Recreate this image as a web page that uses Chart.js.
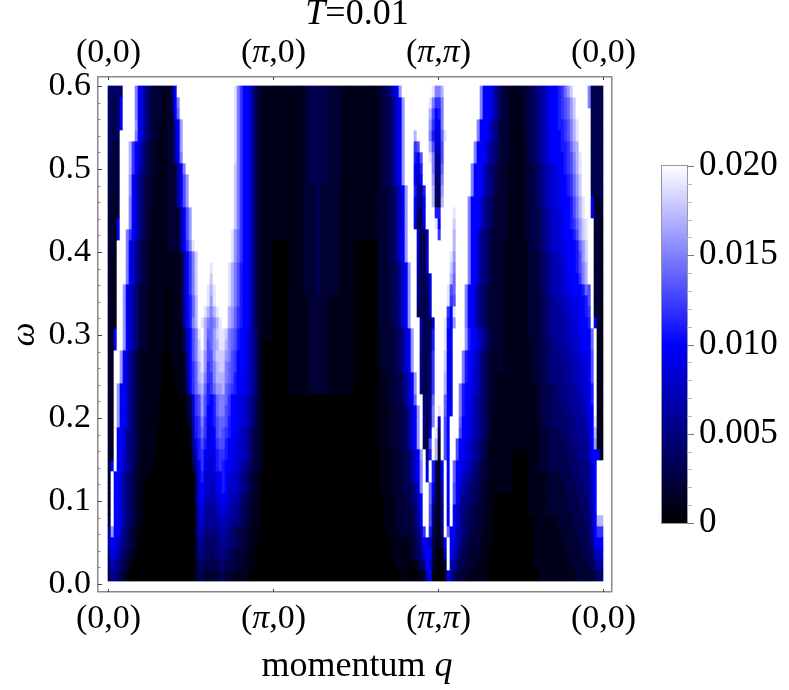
<!DOCTYPE html>
<html>
<head>
<meta charset="utf-8">
<title>T=0.01</title>
<script src="https://cdn.jsdelivr.net/npm/chart.js@4/dist/chart.umd.min.js"></script>
<style>
  html, body { margin: 0; padding: 0; background: #fff; }
  #wrap { position: relative; width: 789px; height: 690px; overflow: hidden; }
  canvas { position: absolute; display: block; filter: blur(0.6px); }
</style>
</head>
<body>
<div id="wrap">
  <canvas id="mapChart" width="789" height="690" style="left:0;top:0"></canvas>
  <canvas id="barChart" width="149" height="423" style="left:640px;top:133px"></canvas>
</div>
<script>
const qTicks = [0, 1, 2, 3];
const qLabels = ['(0,0)', '(π,0)', '(π,π)', '(0,0)'];
const omegaTicks = [0, 0.1, 0.2, 0.3, 0.4, 0.5, 0.6];
const omegaMinorTicks = [0.02, 0.04, 0.06, 0.08, 0.12, 0.14, 0.16, 0.18, 0.22, 0.24, 0.26, 0.28, 0.32, 0.34, 0.36, 0.38, 0.42, 0.44, 0.46, 0.48, 0.52, 0.54, 0.56, 0.58];
const barTicks = [0, 0.005, 0.01, 0.015, 0.02];
const barMinorTicks = [0.001, 0.002, 0.003, 0.004, 0.006, 0.007, 0.008, 0.009, 0.011, 0.012, 0.013, 0.014, 0.016, 0.017, 0.018, 0.019];
const barLabels = ['0', '0.005', '0.010', '0.015', '0.020'];

// spectral weight, top row first, one base-36 digit per
// column in units of 0.001 (0 = black, a = 0.010 = blue, k = 0.020 = white)
const spectrumRows = [
  '44444kkkkf a864322211 23akkkkkkk kkkkkkkkkk kkjfcaa863 2111111111 1111122333 3332222211 1111111111 233468agkk kkkkkkkkjf fhkkkkkkkk kkkkfaaa86 4322111122 3345678aaa bcegikkkkk f3333',
  '4334akkkkf a864322211 23afkkkkkk kkkkkkkkkk kkjfcaa863 2111111111 1111122333 3332222211 1111111111 2233468agk kkkkkkkjfc cfkkkkkkkk kkkkfaaa86 4322111122 3345678aaa bcdegikkkk f3333',
  '4334akkkkf a864322211 22aekkkkkk kkkkkkkkkk kkjfcaa863 2111111111 1111122333 3332222211 1111111111 2233468agk kkkkkkkhda bfkkkkkkkk kkkkfaaa86 4322111122 3345678aaa bcdegikkkk k3333',
  '4334akkkkg a864322111 226agkkkkk kkkkkkkkkk kkjfcaa863 2111111111 1111122333 3332222211 1111111111 2233468agk kkkkkkkgc9 afkkkkkkkk kkkfaaa865 3222111122 3345678aaa bbcdfhjkkk k3333',
  '4334kkkkkf a864322111 226agkkkkk kkkkkkkkkk kkjfcaa863 2111111111 1111122333 3332222211 1111111111 2233468agk kkhkkkkfb8 9ejkkkkkkk kkkfaaa865 3222111112 3345678aaa abcdfhjkkk k3333',
  '4323kkkhca 8643221111 226agkkkkk kkkkkkkkkk kkjfcaa863 2111111111 1111122333 3332222211 1111111111 2233468agk kkcdkkkhd8 8dkkkkkkkk kkfaaa8654 3222111112 3345678aaa abbceghkkk k3333',
  '3323kkkhca 8643221111 226afkkkkk kkkkkkkkkk kkjfcaa863 2111111111 1111122333 3332222211 1111111111 2233468agk kkb9dkkjf6 6dkkkkkkkk kkfaaa8654 3222111112 3345678aaa aabcdfhjkk k3333',
  '3223kkkhca 7643221111 2226afkkkk kkkkkkkkkk kkifcaa863 2111111111 1111122333 3332222211 1111111111 2233468agk kka8bkkkf5 5ekkkkkkkk kfaaa86543 2221111112 2334567889 aabcdfhjkk k3333',
  '3223kkkga8 6432211111 2226adgkkk kkkkkkkkkk kkifcaa863 2111111111 1111122333 3332222211 1111111111 2233468agk kka7akkkg4 4fkkkkkkkk kfaaa86543 2221111112 2334567889 9aabcegikk k3333',
  '3223kkkga8 6432211111 2226adgkkk kkkkkkkkkk kkifcaa863 2111111111 1111122223 3222222111 1111111111 22233468ag kkb66bkkh4 4gkkkkkkkk kfaaa86543 2221111112 2334567889 9aabcegikk k3333',
  '2213kkkfa8 6432211111 2226adgkkk kkkkkkkkkk kkifcaa863 2111111111 1111122223 3222222111 1111111111 22233468ag kka55akkh3 3hkkkkkkkk faaa865432 2221111112 2334567889 9aaabdfhjk ka222',
  '2213kkkfa8 6432211111 22226adgkk kkkkkkkkkk kkifcaa863 2111111111 1111122223 3222222111 1111111111 22233468ag kka43akkkb bkkkkjkkkk faaa865432 2221111112 2333456788 99aabdfhjk ka222',
  '221akkkfa8 6432111111 22226adgkk kkkkkkkkkk kkifcaa863 2111111111 1111122223 3222222111 1111111111 22233468ag kk9339kkkj akkkkikkkk faaa865432 2221111112 2333456788 89aabcegij kk221',
  '221akkfca8 6432111111 22226adgkk kkkkkkkkkk kjgecaa863 2111111111 1111122223 3222222111 1111111111 22233468ag kkk8337kkk ckkkkhkkkk faa8654322 2221111112 2333456788 89aaabdgij kk221',
  '221kkkfa86 4322111111 22226acfjk kkkkkkkkkk kjgecaa863 2111100000 1111122223 3222222111 1100000000 22233468ag kkk8337kkk kkkkkhkkkk faa8654322 2211111111 2333456788 899aaabegi kk221',
  '211kkkfa86 4322111111 111126acfi kkkkkkkkkk kjgecaa863 2111100000 1111122223 3222222111 1100000000 22233468ag kkk7338kkk kkkkjgkkkk faa8654322 2211111111 2223345677 889aaabdgi kk221',
  '211kkkfa86 4322111111 111126acfi kkkkjkkkkk jhfdbaa863 2111100000 1111122223 3222222111 1100000000 222233468a gkk7338kkk kkkkifkkkk faa8654322 2211111111 2223345677 789aaabdfh kk221',
  '211kkkfa86 4322111111 111126acfi kkkkikkkkk jhfdbaa863 2111100000 1111122223 3222222111 1100000000 222233468a gkk63349kk kkkkhekkkk faa8654322 2211111111 2223345677 7899aaacfh kk221',
  '211kkga865 3221111110 111126acfi kkkjhjkkkk jhfdbaa863 2111100000 1111122223 3222222111 1100000000 222233468a gkk63349kk kkkjdekkkf aa86543222 2211111111 2223345677 7889aaaabe dk221',
  '211kkga865 3221111110 111126abeh kkkjgjkkkk jhfdbaa863 2111100000 1111111222 2221111111 1100000000 222233468a gkk53338kk kkkjcdkkkf aa86543222 2211111111 2222344566 7788999aab dk221',
  '211kkga865 3221111110 111126abeh kkjhfhjkkk hgecbaa863 2111100000 1111111222 2221111111 1100000000 222233468a gkk43338kk kkkcajkkkf aa86543222 2211111111 2222344566 6778899aab ck221',
  '211kkga865 3221111110 111116abfh kjhfefhjkk hgecbaa863 2111100000 1111111222 2221111111 1100000000 222233468a gkkk73338k kkjbagkkkf aa86543222 2211111111 2222344566 6677889aaa bka21',
  '21akkga865 3221111110 1111137adf jkheegijji fedbaa9764 2111100000 1111111222 2221111111 1100000000 1222233468 agkk6334bk kkjaakkkkg baa8754322 2211111111 2222344566 66778889aa aek11',
  '21akkga865 3221111110 1111137adf ikhdeghjjh fedbaa9764 2100000000 1111111222 2221111111 1100000000 1222233468 agkk6334bk kkjaakkkkg baa8754322 2211111111 1222334455 66677889aa aek11',
  '21kkga8643 2111111100 0111125adf ijgddgiiig fdcaaa9764 2100000000 1111111222 2221111111 1100000000 1222233468 agkk5335ck kkia9kkkfb aa87543221 2211111111 1222334455 5666778899 adk11',
  '21kkga8643 2111111100 0011125ace hjgcdfhiif edcaaa9764 2100000000 1111111222 2221111111 1100000000 1222233468 agkk5335ck kkia9kkkfb aa87543221 2211111111 1222334455 5566677889 adk11',
  '21kkga8643 2111111100 0001115ace hifccfhhhf edbaa99764 2100000000 1111111222 2221111111 1100000000 1112223346 8agk5335ck kkha9kkkfb a987543221 1111111111 1222334455 5566677888 adk11',
  '21kgaa8643 2111111100 0001114ace ghebcegghe dcbaa99764 2100000000 1111111222 2221111111 1100000000 1112223346 8agk5335ck kkha9kkfba a987543221 1111111111 1112233344 5556667788 9bk11',
  '21kgaa8543 2111111000 000000238c dgdbabeffe caa9987653 2100000000 0000000000 0000000000 0000000000 1112223346 8aekk536ek kkea9kkfba a876543221 1111111111 1112233344 4555666778 9bk11',
  '21kgaa8543 2111111000 000000138c dgdaabeffd caa9987653 2100000000 0000000000 0000000000 0000000000 1111222334 68agk536fk jkeaakkfba 9876543211 1111111111 1112233344 4455566677 9ak11',
  '21kgaa8543 2111111000 000000127b cfcaabdeed baa9987653 2100000000 0000000000 0000000000 0000000000 1111222334 68agk536fk 8kdakkkeaa 9876543211 1111111111 1112233344 4445556667 8aj11',
  '21kaa86543 2111110000 000000016b cec99adedc baa9876532 2100000000 0000000000 0000000000 0000000000 1111222334 68agk438kj 4kdakkkdaa 9876543211 1111111111 1111222333 3444555666 8ah11',
  '21kaa86543 2111110000 000000015a bdb99acddb a998876532 2100000000 0000000000 0000000000 0000000000 1111222334 68agk33dkh 2kdakkdaa9 8765432111 1111111111 1111222333 3344455566 7ag11',
  '21kaa86543 2111110000 0000000048 bca999bccb a998876532 2100000000 0000000000 0000000000 0000000000 0111122233 468agk4bkh 1kdakkdaa9 8765432111 1111100000 1111222333 3334445556 7aaa1',
  '2akaa86542 2111100000 0000000036 aca889bcba a988765432 2100000000 0000000000 0000000000 0000000000 0111122233 468afk8kb4 1akakeaa98 7654322111 1111100000 1111222333 3333444555 68akk',
  '2kaa865432 1110000000 0000000004 ab88889aba 8887654322 1000000000 0000000000 0000000000 0000000000 0111122233 468afkakb3 1akakea987 6544322111 1111100000 1111112222 2333344455 68akk',
  '2kaa865432 1100000000 0000000004 9a88789aba 8887654322 1000000000 0000000000 0000000000 0000000000 0111122233 3468fkkea3 18kakda876 5443221110 1111100000 1111112222 2233334445 58akk',
  '2kaa865432 1100000000 0000000004 9a777789a9 8776543221 1000000000 0000000000 0000000000 0000000000 0011112223 3457akke83 17kakda765 5433221110 0000000000 1111112222 2223333444 58akk',
  '2kaa865432 1100000000 0000000003 8966667898 7665433211 1000000000 0000000000 0000000000 0000000000 0011112223 2346akkd52 16kaka8654 4332221100 0000000000 1111112222 2222333344 57akk',
  '3kaa865432 1100000000 0000000003 8866666787 6655433211 1000000000 0000000000 0000000000 0000000000 0011112223 2346akkd52 16kaka8654 3332211100 0000000000 0011111111 2222233334 47ahh',
  '6gaa764321 1000000000 0000000003 7755555676 5443322111 0000000000 0000000000 0000000000 0000000000 0001111222 23357ckb42 14keaa7654 3322211100 0000000000 0011111111 1222223333 46acc',
  '7a98654321 0000000000 0000000002 6644445565 5443322111 0000000000 0000000000 0000000000 0000000000 0000111111 12346aa731 13aka97543 3222111100 0000000000 0011111111 1122222333 459aa',
  '5a87543211 0000000000 0000000002 5544344554 4332221110 0000000000 0000000000 0000000000 0000000000 0000011111 123458aa31 017ka86433 2222111000 0000000000 0011111111 1112222233 34788',
  '4865432100 0000000000 0000000002 4433333443 3332221110 0000000000 0000000000 0000000000 0000000000 0000001111 011235a821 003k865332 2211111000 0000000000 0011111111 1111222222 33566',
  '3654321000 0000000000 0000000002 3322222332 2211111000 0000000000 0000000000 0000000000 0000000000 0000000011 0001127a10 001a643222 1111110000 0000000000 0000111111 1111112222 22344'
];

const SERIF = '"Liberation Serif", "Times New Roman", serif';
const PX_PER_OMEGA = 830;
const PX_PER_Q = 165;
const COLUMNS = 165;
const rowStep = 11 / PX_PER_OMEGA;

function weightColor(v) {
  if (v <= 0.01) return `rgb(0,0,${Math.round(255 * v / 0.01)})`;
  const t = Math.round(255 * Math.min(1, (v - 0.01) / 0.01));
  return `rgb(${t},${t},255)`;
}

const datasets = spectrumRows.map((row, r) => {
  const cells = row.replace(/ /g, '').split('').slice(0, COLUMNS);
  const hi = 0.6 - r * rowStep;
  return {
    data: cells.map((_, c) => ({ x: (c + 0.5) * 3 / COLUMNS, y: [hi - rowStep, hi] })),
    backgroundColor: cells.map(ch => weightColor(parseInt(ch, 36) * 0.001)),
    borderWidth: 0,
    barThickness: 3,
    grouped: false
  };
});

// draws text with the math letters in italics, which a tick or title option can't do
function mixedText(ctx, text, cx, baseline, size) {
  const parts = text.split(/([Tqπ])/).filter(Boolean);
  const fontOf = p => `${/^[Tqπ]$/.test(p) ? 'italic ' : ''}${size}px ${SERIF}`;
  let width = 0;
  parts.forEach(p => { ctx.font = fontOf(p); width += ctx.measureText(p).width; });
  let x = cx - width / 2;
  ctx.fillStyle = '#000';
  ctx.textAlign = 'left';
  ctx.textBaseline = 'alphabetic';
  parts.forEach(p => {
    ctx.font = fontOf(p);
    ctx.fillText(p, x, baseline);
    x += ctx.measureText(p).width;
  });
}

const framePlugin = {
  id: 'frame',
  afterDraw(chart) {
    const { ctx, chartArea: a, scales } = chart;
    ctx.save();
    ctx.strokeStyle = '#8a8a8a';
    ctx.lineWidth = 1.5;
    ctx.strokeRect(a.left - 0.25, a.top - 0.25, a.right - a.left, a.bottom - a.top);

    const tick = (x1, y1, x2, y2, color) => {
      ctx.strokeStyle = color;
      ctx.lineWidth = 1;
      ctx.beginPath();
      ctx.moveTo(x1, y1);
      ctx.lineTo(x2, y2);
      ctx.stroke();
    };
    omegaTicks.forEach(v => {
      const y = Math.round(scales.y.getPixelForValue(v)) + 0.5;
      tick(a.left, y, a.left + 4, y, '#444');
    });
    omegaMinorTicks.forEach(v => {
      const y = Math.round(scales.y.getPixelForValue(v)) + 0.5;
      tick(a.left, y, a.left + 2.5, y, '#888');
    });
    qTicks.forEach((v, i) => {
      const x = Math.round(scales.x.getPixelForValue(v)) + 0.5;
      tick(x, a.top, x, a.top + 3, '#444');
      tick(x, a.bottom, x, a.bottom - 3, '#444');
      mixedText(ctx, qLabels[i], x, 62, 34);
      mixedText(ctx, qLabels[i], x, 628, 34);
    });
    mixedText(ctx, 'T=0.01', 357, 24, 36);
    mixedText(ctx, 'momentum q', 357, 676, 36);
    ctx.restore();
  }
};

new Chart(document.getElementById('mapChart'), {
  type: 'bar',
  data: { datasets },
  plugins: [framePlugin],
  options: {
    responsive: false,
    animation: false,
    events: [],
    layout: { autoPadding: false, padding: { left: 0, right: 177, top: 0, bottom: 0 } },
    plugins: { legend: { display: false }, title: { display: false }, tooltip: { enabled: false } },
    scales: {
      x: {
        type: 'linear',
        position: 'bottom',
        offset: false,
        min: -10 / PX_PER_Q,
        max: 3 + 9 / PX_PER_Q,
        grid: { display: false },
        border: { display: false },
        ticks: { display: false },
        afterFit: s => { s.height = 98; }
      },
      xTop: {
        type: 'linear',
        position: 'top',
        offset: false,
        min: -10 / PX_PER_Q,
        max: 3 + 9 / PX_PER_Q,
        grid: { display: false },
        border: { display: false },
        ticks: { display: false },
        afterFit: s => { s.height = 77; }
      },
      y: {
        type: 'linear',
        min: 0.6 - 506 / PX_PER_OMEGA,
        max: 0.6 + 9 / PX_PER_OMEGA,
        grid: { display: false, drawTicks: false },
        border: { display: false },
        title: {
          display: true,
          text: 'ω',
          color: '#000',
          padding: { top: 5, bottom: 0 },
          font: { family: SERIF, size: 33.5, style: 'italic' }
        },
        ticks: {
          color: '#000',
          padding: 7,
          font: { family: SERIF, size: 34 },
          callback: v => v.toFixed(1)
        },
        afterBuildTicks: s => { s.ticks = omegaTicks.map(value => ({ value })); },
        afterFit: s => { s.width = 98; }
      }
    }
  }
});

// colour bar
const barPlugin = {
  id: 'barFrame',
  afterDraw(chart) {
    const { ctx, chartArea: a, scales } = chart;
    ctx.save();
    ctx.strokeStyle = '#999';
    ctx.lineWidth = 1;
    ctx.strokeRect(a.left - 0.5, a.top - 0.5, a.right - a.left + 1, a.bottom - a.top + 1);
    const tick = (v, len, color) => {
      const y = Math.round(scales.y.getPixelForValue(v)) + 0.5;
      ctx.strokeStyle = color;
      ctx.beginPath();
      ctx.moveTo(a.right, y);
      ctx.lineTo(a.right + len, y);
      ctx.stroke();
    };
    barTicks.forEach(v => tick(v, 7, '#777'));
    barMinorTicks.forEach(v => tick(v, 5, '#bbb'));
    ctx.restore();
  }
};

new Chart(document.getElementById('barChart'), {
  type: 'bar',
  data: {
    labels: ['weight'],
    datasets: [{
      data: [[0, 0.02]],
      barPercentage: 1,
      categoryPercentage: 1,
      borderWidth: 0,
      backgroundColor: ctx => {
        const a = ctx.chart.chartArea;
        if (!a) return '#00f';
        const g = ctx.chart.ctx.createLinearGradient(0, a.bottom, 0, a.top);
        g.addColorStop(0, weightColor(0));
        g.addColorStop(0.5, weightColor(0.01));
        g.addColorStop(1, weightColor(0.02));
        return g;
      }
    }]
  },
  plugins: [barPlugin],
  options: {
    responsive: false,
    animation: false,
    events: [],
    layout: { autoPadding: false, padding: { left: 22, right: 0, top: 18, bottom: 22 } },
    plugins: { legend: { display: false }, title: { display: false }, tooltip: { enabled: false } },
    scales: {
      x: { display: false },
      y: {
        position: 'right',
        min: 0,
        max: 0.02,
        grid: { display: false, drawTicks: false },
        border: { display: false },
        ticks: {
          color: '#000',
          padding: 12,
          font: { family: SERIF, size: 35 },
          callback: v => barLabels[barTicks.findIndex(t => Math.abs(t - v) < 1e-6)]
        },
        afterBuildTicks: s => { s.ticks = barTicks.map(value => ({ value })); },
        afterFit: s => { s.width = 102; }
      }
    }
  }
});
</script>
</body>
</html>
